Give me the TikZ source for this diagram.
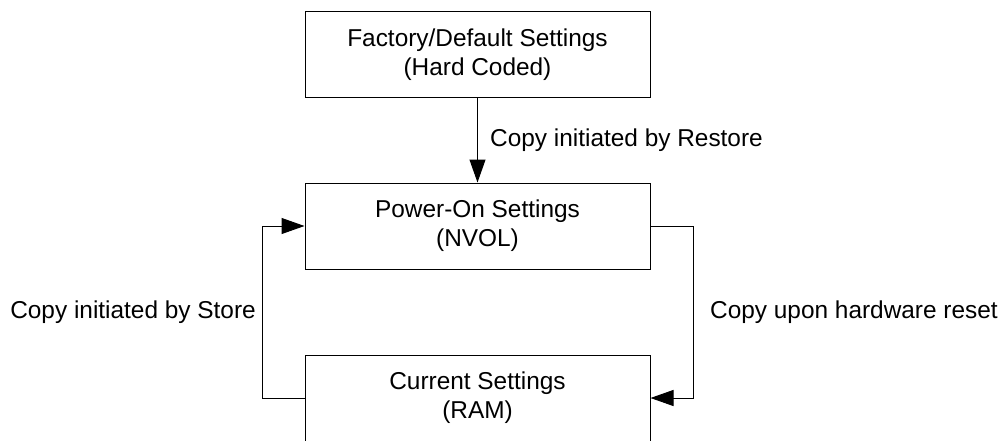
\documentclass[tikz,border=0pt]{standalone}
\usepackage{fontspec}
\setmainfont{Liberation Sans}
\usetikzlibrary{arrows.meta}
\begin{document}
\begin{tikzpicture}[x=1pt,y=-1pt,
  box/.style={draw=black, line width=1pt, minimum width=345pt, minimum height=86pt, align=center, inner sep=0pt,
    font=\fontsize{24.4}{29}\selectfont},
  lbl/.style={font=\fontsize{24.4}{29}\selectfont, inner sep=0pt},
  conn/.style={draw=black, line width=1pt, -{Triangle[length=23pt,width=16pt]}}]
\useasboundingbox (0,0) rectangle (999,440);
\node[box] (b1) at (477.5,54.5) {Factory/Default Settings\\(Hard Coded)};
\node[box] (b2) at (477.5,226) {Power-On Settings\\(NVOL)};
\node[box] (b3) at (477.5,398) {Current Settings\\(RAM)};
\coordinate (L) at (262,0);
\coordinate (R) at (693,0);
\draw[conn] (b1) -- (b2);
\draw[conn] (b3.west) -- (b3.west -| L) -- (b2.west -| L) -- (b2.west);
\draw[conn] (b2.east) -- (b2.east -| R) -- (b3.east -| R) -- (b3.east);
\node[lbl, anchor=west] (t1) at (490,140) {Copy initiated by Restore};
\node[lbl, anchor=east] (t2) at (256,312) {Copy initiated by Store};
\node[lbl, anchor=west] (t3) at (710,312) {Copy upon hardware reset};
\end{tikzpicture}
\end{document}
